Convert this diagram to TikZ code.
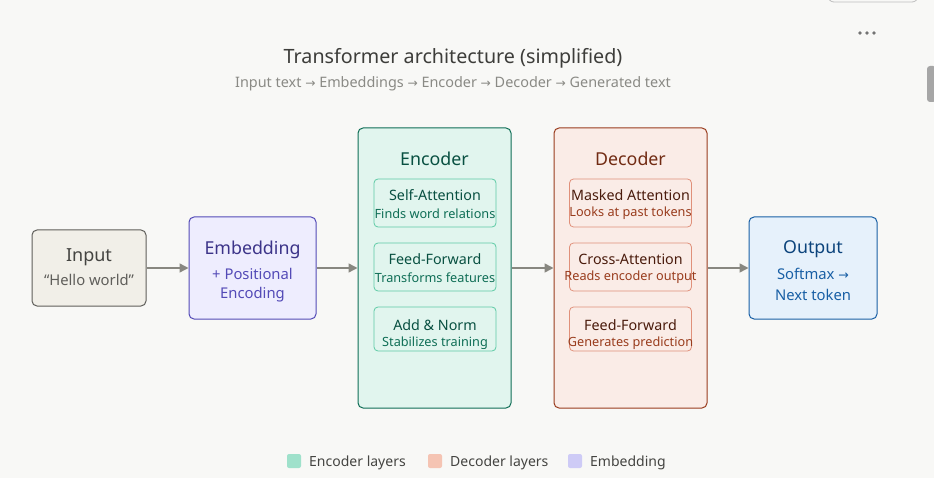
\documentclass[tikz,border=0pt]{standalone}
\usepackage{fontspec}
\setmainfont{Noto Sans}
\newfontfamily\symfont{DejaVu Sans}
\newcommand{\rar}{{\symfont\scalebox{0.85}{→}}}
\usetikzlibrary{arrows.meta}
\definecolor{bg}{HTML}{F8F8F6}
\definecolor{ttl}{HTML}{3D3D3A}
\definecolor{sub}{HTML}{8A8A85}
\definecolor{arr}{HTML}{888780}
\definecolor{inF}{HTML}{F1EFE8}\definecolor{inD}{HTML}{5F5E5A}\definecolor{inT}{HTML}{444441}
\definecolor{emF}{HTML}{EEEDFE}\definecolor{emD}{HTML}{534AB7}\definecolor{emT}{HTML}{3C3489}
\definecolor{enF}{HTML}{E1F5EE}\definecolor{enD}{HTML}{0F6E56}\definecolor{enT}{HTML}{085041}\definecolor{enS}{HTML}{5DCAA5}
\definecolor{deF}{HTML}{FAECE7}\definecolor{deD}{HTML}{993C1D}\definecolor{deT}{HTML}{712B13}\definecolor{deS}{HTML}{E0907A}\definecolor{deK}{HTML}{4A1B0C}
\definecolor{ouF}{HTML}{E6F1FB}\definecolor{ouD}{HTML}{185FA5}\definecolor{ouT}{HTML}{0C447C}
\definecolor{lgA}{HTML}{9FE1CB}\definecolor{lgB}{HTML}{F5C4B3}\definecolor{lgC}{HTML}{CECBF6}
\newcommand{\fs}[1]{\fontsize{#1}{#1}\selectfont}
\tikzset{
  box/.style={draw, line width=1pt, rounded corners=5pt, inner sep=0pt},
  subbox/.style={draw, line width=0.8pt, rounded corners=4pt, inner sep=0pt, minimum width=122pt},
  lbl/.style={inner sep=0pt, anchor=center, yshift=-1.5pt},
  flow/.style={draw=arr, line width=1.5pt, -{Triangle[length=9pt,width=9pt]}},
  legsq/.style={rounded corners=2pt, minimum size=14pt, inner sep=0pt},
}
\begin{document}
\begin{tikzpicture}[x=1pt,y=-1pt]
\fill[bg] (0,0) rectangle (934,478);
\useasboundingbox (0,0) rectangle (934,478);
% UI chrome
\draw[draw=black!25, line width=0.8pt, rounded corners=6pt] (828,-10) rectangle (918,2);
\foreach \xx in {860,867,874} \fill[black!55] (\xx,33) circle (1.8pt);
\fill[black!35, rounded corners=3pt] (927,66) rectangle (936,102);
% title
\node[lbl, text=ttl, font=\fs{19.7}] (title) at (453,57) {Transformer architecture (simplified)};
\node[lbl, text=sub, font=\fs{14.4}] (subtitle) at (453,82) {Input text \rar\ Embeddings \rar\ Encoder \rar\ Decoder \rar\ Generated text};
% Input
\node[box, fill=inF, draw=inD, minimum width=114pt, minimum height=76pt] (input) at (89,268) {};
\node[lbl, text=inT, font=\fs{18}] (inputA) at (89,256) {Input};
\node[lbl, text=inD, font=\fs{14.8}] (inputB) at (89,278) {“Hello world”};
% Embedding
\node[box, fill=emF, draw=emD, minimum width=127pt, minimum height=102pt] (emb) at (252.5,268) {};
\node[lbl, text=emT, font=\fs{17.8}] (embA) at (252.5,248) {Embedding};
\node[lbl, text=emD, font=\fs{14.8}] (embB) at (252.5,272) {+ Positional};
\node[lbl, text=emD, font=\fs{14.8}] (embC) at (252.5,293) {Encoding};
% Encoder
\node[box, fill=enF, draw=enD, minimum width=153pt, minimum height=280pt] (enc) at (434.5,268) {};
\node[lbl, text=enT, font=\fs{17.8}] (encA) at (434.5,157) {Encoder};
\node[subbox, fill=enF, draw=enS, minimum height=48pt] (enc1) at (435,203) {};
\node[subbox, fill=enF, draw=enS, minimum height=48pt] (enc2) at (435,267) {};
\node[subbox, fill=enF, draw=enS, minimum height=44pt] (enc3) at (435,329) {};
\node[lbl, text=enT, font=\fs{14.3}] (enc1a) at (435,194) {Self-Attention};
\node[lbl, text=enD, font=\fs{12.7}] (enc1b) at (435,212) {Finds word relations};
\node[lbl, text=enT, font=\fs{14.3}] (enc2a) at (435,258) {Feed-Forward};
\node[lbl, text=enD, font=\fs{12.7}] (enc2b) at (435,276) {Transforms features};
\node[lbl, text=enT, font=\fs{14.3}] (enc3a) at (435,324) {Add \& Norm};
\node[lbl, text=enD, font=\fs{12.7}] (enc3b) at (435,342) {Stabilizes training};
% Decoder
\node[box, fill=deF, draw=deD, minimum width=153pt, minimum height=280pt] (dec) at (630.5,268) {};
\node[lbl, text=deT, font=\fs{17.8}] (decA) at (630.5,157) {Decoder};
\node[subbox, fill=deF, draw=deS, minimum height=48pt] (dec1) at (630.5,203) {};
\node[subbox, fill=deF, draw=deS, minimum height=48pt] (dec2) at (630.5,267) {};
\node[subbox, fill=deF, draw=deS, minimum height=44pt] (dec3) at (630.5,329) {};
\node[lbl, text=deK, font=\fs{14.3}] (dec1a) at (630.5,194) {Masked Attention};
\node[lbl, text=deD, font=\fs{12.7}] (dec1b) at (630.5,212) {Looks at past tokens};
\node[lbl, text=deK, font=\fs{14.3}] (dec2a) at (630.5,258) {Cross-Attention};
\node[lbl, text=deD, font=\fs{12.7}] (dec2b) at (630.5,276) {Reads encoder output};
\node[lbl, text=deK, font=\fs{14.3}] (dec3a) at (630.5,324) {Feed-Forward};
\node[lbl, text=deD, font=\fs{12.7}] (dec3b) at (630.5,342) {Generates prediction};
% Output
\node[box, fill=ouF, draw=ouD, minimum width=128pt, minimum height=102pt] (out) at (813,268) {};
\node[lbl, text=ouT, font=\fs{17.8}] (outA) at (813,248) {Output};
\node[lbl, text=ouD, font=\fs{14.8}] (outB) at (813,272) {Softmax \rar};
\node[lbl, text=ouD, font=\fs{14.8}] (outC) at (813,293) {Next token};
% arrows
\draw[flow] (input.east) -- (emb.west);
\draw[flow] (emb.east) -- (enc.west);
\draw[flow] (enc.east) -- (dec.west);
\draw[flow] (dec.east) -- (out.west);
% legend
\node[legsq, fill=lgA] (lg1) at (294,461) {};
\node[lbl, anchor=west, text=inT, font=\fs{14}] (lg1t) at (309,461) {Encoder layers};
\node[legsq, fill=lgB] (lg2) at (435,461) {};
\node[lbl, anchor=west, text=inT, font=\fs{14}] (lg2t) at (450,461) {Decoder layers};
\node[legsq, fill=lgC] (lg3) at (575,461) {};
\node[lbl, anchor=west, text=inT, font=\fs{14}] (lg3t) at (590,461) {Embedding};
\end{tikzpicture}
\end{document}
